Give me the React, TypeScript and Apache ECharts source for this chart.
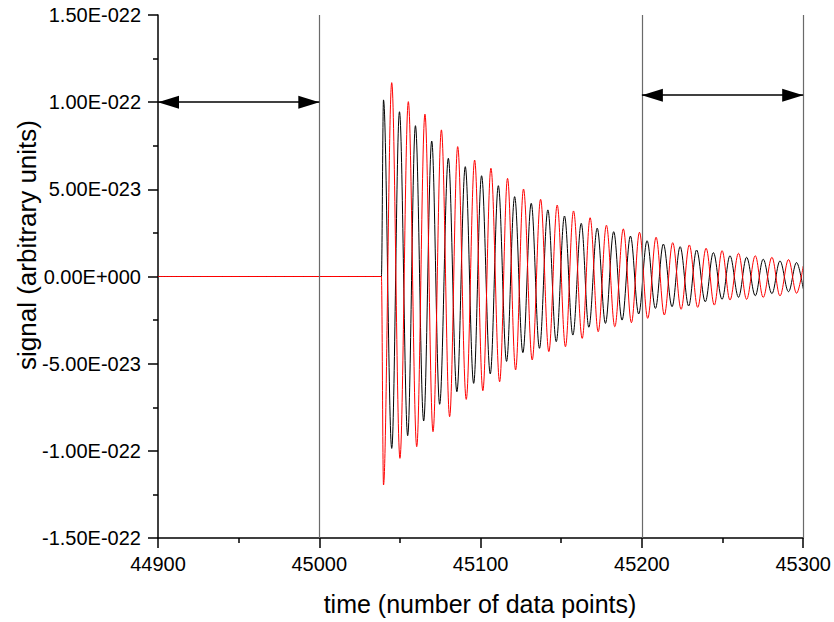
import React, { useEffect, useRef } from "react";
import * as echarts from "echarts";

// Signal values are in units of 1e-22 (arbitrary units); x is the data-point index.
const xTicksMin = 44900;
const xTicksMax = 45300;
const yTicksMin = -1.5;
const yTicksMax = 1.5;

// quiet baseline before the onset
const baselineX = [44900, 45038.5];
const baselineY = [0, 0];

// black trace: successive extrema (max, min, max, ...)
const blackX = [
  45039.8, 45044.9, 45049.7, 45054.8, 45059.6, 45064.7, 45069.7, 45074.6, 45080.0, 45085.3,
  45090.5, 45095.7, 45100.6, 45106.0, 45111.0, 45116.1, 45121.1, 45126.2, 45131.4, 45136.5,
  45141.7, 45146.9, 45152.0, 45157.2, 45162.4, 45167.1, 45172.3, 45177.4, 45182.5, 45187.7,
  45192.9, 45198.0, 45203.2, 45208.4, 45213.3, 45218.7, 45223.7, 45229.0, 45233.9, 45239.3,
  45244.3, 45249.7, 45254.6, 45259.9, 45264.9, 45270.3, 45275.2, 45280.6, 45285.6, 45290.9,
  45295.9, 45300,
];
const blackY = [
  1.013, -0.986, 0.945, -0.913, 0.865, -0.829, 0.777, -0.733, 0.678, -0.661,
  0.630, -0.613, 0.578, -0.559, 0.521, -0.487, 0.458, -0.437, 0.420, -0.412,
  0.382, -0.374, 0.347, -0.336, 0.305, -0.291, 0.277, -0.269, 0.257, -0.250,
  0.232, -0.215, 0.205, -0.183, 0.186, -0.173, 0.171, -0.169, 0.152, -0.145,
  0.137, -0.131, 0.119, -0.119, 0.110, -0.110, 0.099, -0.098, 0.089, -0.087,
  0.080, -0.070,
];

// red trace: successive extrema (min, max, min, ...)
const redX = [
  45039.8, 45044.9, 45050.0, 45055.2, 45060.4, 45065.5, 45070.5, 45075.7, 45080.8, 45085.8,
  45091.1, 45096.3, 45101.4, 45106.4, 45111.8, 45116.7, 45121.7, 45126.6, 45132.0, 45137.2,
  45142.3, 45147.5, 45152.6, 45157.6, 45163.0, 45167.9, 45172.9, 45178.0, 45183.2, 45188.5,
  45193.5, 45198.5, 45203.6, 45208.8, 45213.9, 45219.1, 45224.3, 45229.4, 45234.6, 45239.8,
  45244.9, 45249.7, 45254.6, 45259.9, 45264.9, 45270.3, 45275.2, 45280.6, 45285.6, 45290.9,
  45295.9, 45300,
];
const redY = [
  -1.196, 1.112, -1.043, 1.003, -0.976, 0.931, -0.890, 0.841, -0.804, 0.745,
  -0.705, 0.668, -0.655, 0.621, -0.604, 0.563, -0.536, 0.502, -0.479, 0.443,
  -0.431, 0.410, -0.403, 0.376, -0.355, 0.337, -0.317, 0.294, -0.288, 0.273,
  -0.265, 0.254, -0.240, 0.225, -0.221, 0.194, -0.188, 0.181, -0.177, 0.162,
  -0.164, 0.148, -0.135, 0.133, -0.131, 0.119, -0.120, 0.110, -0.111, 0.097,
  -0.096, 0.060,
];

// window markers
const verticalLinesX = [45000, 45200, 45300];
const arrowLeft = { from: 44900, to: 45000, level: 1.0 };
const arrowRight = { from: 45200, to: 45300, level: 1.04 };

const FONT = "'Liberation Sans', Arial, Helvetica, sans-serif";

function sci(v: number): string {
  if (Math.abs(v) < 1e-9) return "0.00E+000";
  const real = v * 1e-22;
  const e = Math.floor(Math.log10(Math.abs(real)) + 1e-9);
  const m = real / Math.pow(10, e);
  const sign = e < 0 ? "-" : "+";
  return m.toFixed(2) + "E" + sign + String(Math.abs(e)).padStart(3, "0");
}

function pairs(xs: number[], ys: number[]): number[][] {
  return xs.map((x, i) => [x, ys[i]]);
}

export default function App() {
  const ref = useRef<HTMLDivElement>(null);

  useEffect(() => {
    document.body.style.margin = "0";
    const chart = echarts.init(ref.current!, null, { renderer: "svg" });

    const base = pairs(baselineX, baselineY);
    const blackData = base.concat(pairs(blackX, blackY));
    const redData = base.concat(pairs(redX, redY));

    const option: any = {
      animation: false,
      backgroundColor: "#ffffff",
      grid: { left: 158, right: 30, top: 15, bottom: 84, containLabel: false },
      xAxis: {
        type: "value",
        min: xTicksMin,
        max: xTicksMax,
        interval: 100,
        axisLine: { show: true, onZero: false, lineStyle: { color: "#000", width: 1.5 } },
        axisTick: { show: true, inside: false, length: 10, lineStyle: { color: "#000", width: 1.5 } },
        minorTick: { show: true, splitNumber: 2, length: 5, lineStyle: { color: "#000", width: 1.5 } },
        splitLine: { show: false },
        axisLabel: {
          fontSize: 20,
          color: "#000",
          fontFamily: FONT,
          margin: 16,
          formatter: (v: number) => String(Math.round(v)),
        },
      },
      yAxis: {
        type: "value",
        min: yTicksMin,
        max: yTicksMax,
        interval: 0.5,
        axisLine: { show: true, onZero: false, lineStyle: { color: "#000", width: 1.5 } },
        axisTick: { show: true, inside: false, length: 10, lineStyle: { color: "#000", width: 1.5 } },
        minorTick: { show: true, splitNumber: 2, length: 5, lineStyle: { color: "#000", width: 1.5 } },
        splitLine: { show: false },
        axisLabel: { fontSize: 20, color: "#000", fontFamily: FONT, margin: 17, formatter: sci },
      },
      graphic: [
        {
          type: "text",
          x: 480,
          y: 604,
          style: {
            text: "time (number of data points)",
            font: `25px ${FONT}`,
            fill: "#000",
            textAlign: "center",
            textVerticalAlign: "middle",
          },
        },
        {
          type: "text",
          x: 27,
          y: 245,
          rotation: Math.PI / 2,
          style: {
            text: "signal (arbitrary units)",
            font: `26px ${FONT}`,
            fill: "#000",
            textAlign: "center",
            textVerticalAlign: "middle",
          },
        },
      ],
      series: [
        {
          name: "black",
          type: "line",
          data: blackData,
          showSymbol: false,
          symbol: "none",
          smooth: 0.36,
          smoothMonotone: "x",
          lineStyle: { color: "#000000", width: 1 },
          z: 2,
          markLine: {
            silent: true,
            animation: false,
            symbol: ["none", "none"],
            label: { show: false },
            lineStyle: { color: "#6a6a6a", width: 1.2, type: "solid" },
            data: verticalLinesX.map((x) => ({ xAxis: x })),
          },
        },
        {
          name: "red",
          type: "line",
          data: redData,
          showSymbol: false,
          symbol: "none",
          smooth: 0.36,
          smoothMonotone: "x",
          lineStyle: { color: "#ff0000", width: 1 },
          z: 3,
        },
        {
          name: "arrows",
          type: "line",
          data: [],
          z: 4,
          markLine: {
            silent: true,
            animation: false,
            symbol: ["triangle", "triangle"],
            symbolSize: [13, 21],
            symbolOffset: [[0, 10.5], [0, 10.5]],
            label: { show: false },
            lineStyle: { color: "#000", width: 1.5, type: "solid" },
            itemStyle: { color: "#000" },
            data: [
              [{ coord: [arrowLeft.from, arrowLeft.level] }, { coord: [arrowLeft.to, arrowLeft.level] }],
              [{ coord: [arrowRight.from, arrowRight.level] }, { coord: [arrowRight.to, arrowRight.level] }],
            ],
          },
        },
      ],
    };

    chart.setOption(option);
    return () => chart.dispose();
  }, []);

  return <div ref={ref} style={{ width: 834, height: 622 }} />;
}
